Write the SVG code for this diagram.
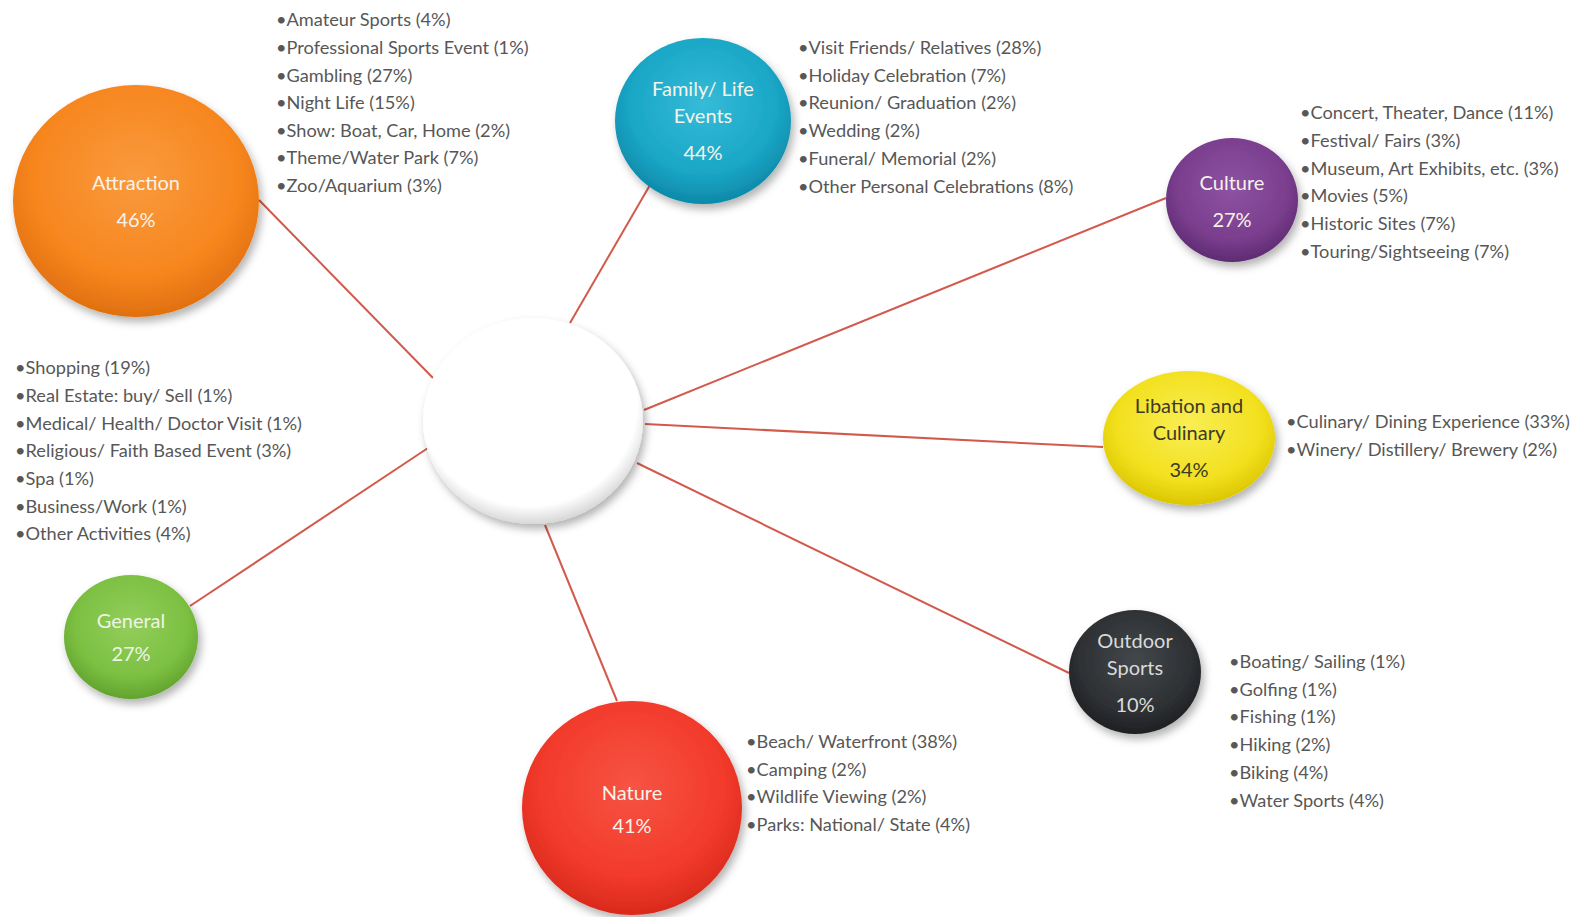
<svg xmlns="http://www.w3.org/2000/svg" width="1571" height="917" viewBox="0 0 1571 917">
<style>
.lst{font-family:Lato,"Liberation Sans",sans-serif;font-size:18.2px;fill:#575757}
.lbl{font-family:Lato,"Liberation Sans",sans-serif;font-size:20px;text-anchor:middle;fill:#F7F3EA}
.dkt{fill:#3D3B25}
.ltg{fill:#DADADA}
.grt{fill:#EEF5E4}
.con{stroke:#D25A4C;stroke-width:2;fill:none}
</style>
<defs>
<filter id="sh" x="-20%" y="-20%" width="150%" height="150%">
<feDropShadow dx="3" dy="5" stdDeviation="4" flood-color="#000" flood-opacity="0.3"/>
</filter>
<radialGradient id="gOr" cx="50%" cy="40%" r="60%"><stop offset="0" stop-color="#F99A3E"/><stop offset="0.7" stop-color="#F7861E"/><stop offset="1" stop-color="#E0700F"/></radialGradient>
<radialGradient id="gTe" cx="50%" cy="40%" r="60%"><stop offset="0" stop-color="#35BBD8"/><stop offset="0.7" stop-color="#1AA6C6"/><stop offset="1" stop-color="#0E89A8"/></radialGradient>
<radialGradient id="gPu" cx="50%" cy="40%" r="60%"><stop offset="0" stop-color="#8E53A2"/><stop offset="0.7" stop-color="#7A3E8E"/><stop offset="1" stop-color="#5F2B72"/></radialGradient>
<radialGradient id="gYe" cx="50%" cy="40%" r="60%"><stop offset="0" stop-color="#F9EE55"/><stop offset="0.7" stop-color="#F2E01E"/><stop offset="1" stop-color="#DCC600"/></radialGradient>
<radialGradient id="gDk" cx="50%" cy="40%" r="60%"><stop offset="0" stop-color="#43474B"/><stop offset="0.7" stop-color="#2E3134"/><stop offset="1" stop-color="#1E2023"/></radialGradient>
<radialGradient id="gRe" cx="50%" cy="40%" r="60%"><stop offset="0" stop-color="#F65444"/><stop offset="0.7" stop-color="#F23A2B"/><stop offset="1" stop-color="#D92A1C"/></radialGradient>
<radialGradient id="gGr" cx="50%" cy="40%" r="60%"><stop offset="0" stop-color="#92CE5C"/><stop offset="0.7" stop-color="#7CC042"/><stop offset="1" stop-color="#62A32E"/></radialGradient>
<radialGradient id="gWh" cx="48%" cy="42%" r="58%"><stop offset="0" stop-color="#FFFFFF"/><stop offset="0.85" stop-color="#FFFFFF"/><stop offset="1" stop-color="#D8D8D8"/></radialGradient>
</defs>
<rect width="1571" height="917" fill="#FFFFFF"/>
<g id="connectors">
<line class="con" x1="259" y1="200" x2="433" y2="378"/>
<line class="con" x1="650" y1="185" x2="570" y2="323"/>
<line class="con" x1="1166" y1="198" x2="644" y2="410"/>
<line class="con" x1="1103" y1="447" x2="645" y2="424"/>
<line class="con" x1="1069" y1="673" x2="637" y2="463"/>
<line class="con" x1="545" y1="525" x2="617" y2="701"/>
<line class="con" x1="190" y1="606" x2="428" y2="448"/>
</g>
<g id="center">
<ellipse cx="533" cy="421" rx="110" ry="103" fill="url(#gWh)" filter="url(#sh)"/>
</g>
<g id="attraction">
<ellipse cx="136" cy="201" rx="123" ry="116" fill="url(#gOr)" filter="url(#sh)"/>
<text class="lbl" x="136" y="190">Attraction</text>
<text class="lbl" x="136" y="227">46%</text>
<text class="lst" x="276" y="26">•Amateur Sports (4%)</text>
<text class="lst" x="276" y="54">•Professional Sports Event (1%)</text>
<text class="lst" x="276" y="82">•Gambling (27%)</text>
<text class="lst" x="276" y="109">•Night Life (15%)</text>
<text class="lst" x="276" y="137">•Show: Boat, Car, Home (2%)</text>
<text class="lst" x="276" y="164">•Theme/Water Park (7%)</text>
<text class="lst" x="276" y="192">•Zoo/Aquarium (3%)</text>
</g>
<g id="family">
<ellipse cx="703" cy="121" rx="88" ry="83" fill="url(#gTe)" filter="url(#sh)"/>
<text class="lbl" x="703" y="96">Family/ Life</text>
<text class="lbl" x="703" y="123">Events</text>
<text class="lbl" x="703" y="160">44%</text>
<text class="lst" x="798" y="54">•Visit Friends/ Relatives (28%)</text>
<text class="lst" x="798" y="82">•Holiday Celebration (7%)</text>
<text class="lst" x="798" y="109">•Reunion/ Graduation (2%)</text>
<text class="lst" x="798" y="137">•Wedding (2%)</text>
<text class="lst" x="798" y="165">•Funeral/ Memorial (2%)</text>
<text class="lst" x="798" y="193">•Other Personal Celebrations (8%)</text>
</g>
<g id="culture">
<ellipse cx="1232" cy="200" rx="66" ry="62" fill="url(#gPu)" filter="url(#sh)"/>
<text class="lbl" x="1232" y="190">Culture</text>
<text class="lbl" x="1232" y="227">27%</text>
<text class="lst" x="1300" y="119">•Concert, Theater, Dance (11%)</text>
<text class="lst" x="1300" y="147">•Festival/ Fairs (3%)</text>
<text class="lst" x="1300" y="175">•Museum, Art Exhibits, etc. (3%)</text>
<text class="lst" x="1300" y="202">•Movies (5%)</text>
<text class="lst" x="1300" y="230">•Historic Sites (7%)</text>
<text class="lst" x="1300" y="258">•Touring/Sightseeing (7%)</text>
</g>
<g id="libation">
<ellipse cx="1189" cy="438" rx="86" ry="67" fill="url(#gYe)" filter="url(#sh)"/>
<text class="lbl dkt" x="1189" y="413">Libation and</text>
<text class="lbl dkt" x="1189" y="440">Culinary</text>
<text class="lbl dkt" x="1189" y="477">34%</text>
<text class="lst" x="1286" y="428">•Culinary/ Dining Experience (33%)</text>
<text class="lst" x="1286" y="456">•Winery/ Distillery/ Brewery (2%)</text>
</g>
<g id="outdoor">
<ellipse cx="1135" cy="672" rx="66" ry="62" fill="url(#gDk)" filter="url(#sh)"/>
<text class="lbl ltg" x="1135" y="648">Outdoor</text>
<text class="lbl ltg" x="1135" y="675">Sports</text>
<text class="lbl ltg" x="1135" y="712">10%</text>
<text class="lst" x="1229" y="668">•Boating/ Sailing (1%)</text>
<text class="lst" x="1229" y="696">•Golfing (1%)</text>
<text class="lst" x="1229" y="723">•Fishing (1%)</text>
<text class="lst" x="1229" y="751">•Hiking (2%)</text>
<text class="lst" x="1229" y="779">•Biking (4%)</text>
<text class="lst" x="1229" y="807">•Water Sports (4%)</text>
</g>
<g id="nature">
<ellipse cx="632" cy="808" rx="110" ry="107" fill="url(#gRe)" filter="url(#sh)"/>
<text class="lbl" x="632" y="800">Nature</text>
<text class="lbl" x="632" y="833">41%</text>
<text class="lst" x="746" y="748">•Beach/ Waterfront (38%)</text>
<text class="lst" x="746" y="776">•Camping (2%)</text>
<text class="lst" x="746" y="803">•Wildlife Viewing (2%)</text>
<text class="lst" x="746" y="831">•Parks: National/ State (4%)</text>
</g>
<g id="general">
<ellipse cx="131" cy="637" rx="67" ry="62" fill="url(#gGr)" filter="url(#sh)"/>
<text class="lbl grt" x="131" y="628">General</text>
<text class="lbl grt" x="131" y="661">27%</text>
<text class="lst" x="15" y="374">•Shopping (19%)</text>
<text class="lst" x="15" y="402">•Real Estate: buy/ Sell (1%)</text>
<text class="lst" x="15" y="430">•Medical/ Health/ Doctor Visit (1%)</text>
<text class="lst" x="15" y="457">•Religious/ Faith Based Event (3%)</text>
<text class="lst" x="15" y="485">•Spa (1%)</text>
<text class="lst" x="15" y="513">•Business/Work (1%)</text>
<text class="lst" x="15" y="540">•Other Activities (4%)</text>
</g>
</svg>
